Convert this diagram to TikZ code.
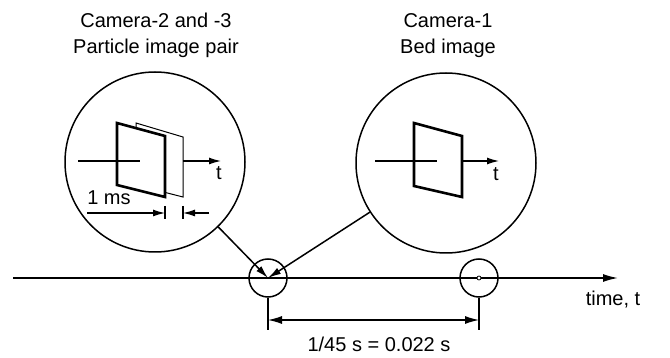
\documentclass[tikz,border=0pt]{standalone}
\usepackage{fontspec}
\setmainfont{Liberation Sans}
\usetikzlibrary{arrows.meta}
\begin{document}
\begin{tikzpicture}[x=1pt,y=-1pt, line join=miter,
 lbl/.style={font=\fontsize{20}{24}\selectfont, inner sep=0pt, anchor=base},
 big/.style={circle, draw, line width=1.5pt, minimum size=180pt, inner sep=0pt},
 small/.style={circle, draw, line width=1.5pt, minimum size=38pt, inner sep=0pt},
 ln/.style={line width=1.5pt},
 thinln/.style={line width=1.2pt},
 arr/.style={ln, -{Latex[length=15pt,width=8pt]}},
 carr/.style={ln, -{Latex[length=13pt,width=7pt]}},
 sarr/.style={thinln, -{Latex[length=12pt,width=7pt]}},
 darr/.style={thinln, {Latex[length=14pt,width=8pt]}-{Latex[length=14pt,width=8pt]}},
 thickframe/.style={line width=2.6pt, fill=white},
 thinframe/.style={line width=1pt, fill=white},
 ]
\useasboundingbox (0,0) rectangle (670,358);
% timeline
\coordinate (t0) at (13,278);
\coordinate (t1) at (618,278);
\draw[arr] (t0) -- (t1);
\node[small] (s1) at (268,278) {};
\node[small] (s2) at (479,278) {};
\node[circle, draw, line width=0.8pt, fill=white, minimum size=4pt, inner sep=0pt] (dot) at (s2.center) {};
% big circles
\node[big] (c1) at (155,162) {};
\node[big] (c2) at (446,163) {};
\draw[carr] (c1) -- (s1.center);
\draw[carr] (c2) -- (s1.center);
% left circle content
\draw[thinframe] (136,123) -- (183,137) -- (183,197) -- (136,185) -- cycle;
\draw[thickframe] (117,123) -- (165,136) -- (165,197) -- (117,185) -- cycle;
\coordinate (la0) at (78,161); \coordinate (la1) at (140,161);
\draw[thinln] (la0) -- (la1);
\coordinate (la2) at (183,161); \coordinate (la3) at (221,161);
\draw[sarr] (la2) -- (la3);
\node[lbl] (tl) at (219,180) {t};
% 1 ms dimension
\coordinate (m1a) at (165,206); \coordinate (m1b) at (165,219);
\coordinate (m2a) at (183,206); \coordinate (m2b) at (183,219);
\draw[thinln] (m1a) -- (m1b);
\draw[thinln] (m2a) -- (m2b);
\coordinate (ma0) at (87,213); \coordinate (ma1) at (165,213);
\coordinate (mb0) at (209,213); \coordinate (mb1) at (183,213);
\draw[sarr] (ma0) -- (ma1);
\draw[sarr] (mb0) -- (mb1);
\node[lbl] (ms) at (109,205) {1 ms};
% right circle content
\draw[thickframe] (414,123) -- (462,136) -- (462,197) -- (414,186) -- cycle;
\coordinate (ra0) at (375,161); \coordinate (ra1) at (437,161);
\draw[thinln] (ra0) -- (ra1);
\coordinate (ra2) at (462,161); \coordinate (ra3) at (499,161);
\draw[sarr] (ra2) -- (ra3);
\node[lbl] (tr) at (496,181) {t};
% main dimension
\coordinate (d1a) at (268,298); \coordinate (d1b) at (268,330);
\coordinate (d2a) at (479,298); \coordinate (d2b) at (479,330);
\draw[thinln] (d1a) -- (d1b);
\draw[thinln] (d2a) -- (d2b);
\coordinate (da0) at (268,320); \coordinate (da1) at (479,320);
\draw[darr] (da0) -- (da1);
\node[lbl] (dl) at (379,352) {1/45 s = 0.022 s};
% labels
\node[lbl] (h1) at (156,28) {Camera-2 and -3};
\node[lbl] (h2) at (156,54) {Particle image pair};
\node[lbl] (h3) at (448,28) {Camera-1};
\node[lbl] (h4) at (448,54) {Bed image};
\node[lbl] (tt) at (613,306) {time, t};
\end{tikzpicture}
\end{document}
